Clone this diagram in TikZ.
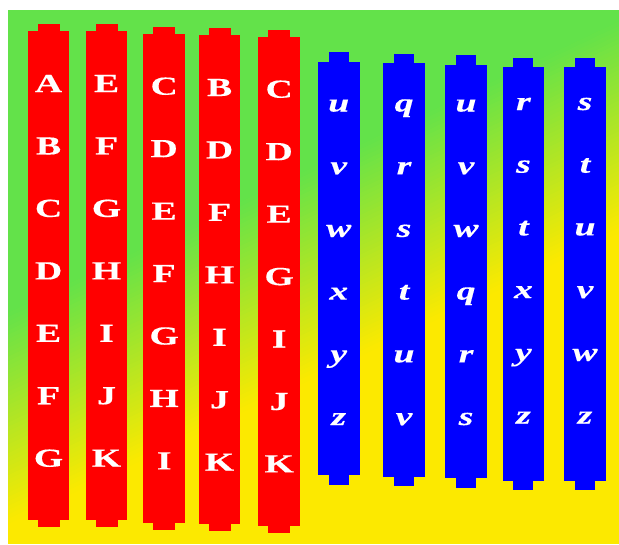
\documentclass[tikz,border=0pt]{standalone}
\usepackage{fontspec}
\setmainfont{Liberation Serif}
\newfontfamily\barfont[FakeStretch=1.45,FakeBold=0.4]{Liberation Serif}
\definecolor{bggreen}{RGB}{99,226,74}
\definecolor{bgyellow}{RGB}{252,233,0}
\definecolor{barred}{RGB}{255,0,0}
\definecolor{barblue}{RGB}{0,0,255}
\tikzset{
  redletter/.style={text=white, font=\barfont\fontsize{26}{27}\selectfont\bfseries, anchor=base, inner sep=0pt},
  blueletter/.style={text=white, font=\barfont\fontsize{26}{27}\selectfont\bfseries\itshape, anchor=base, inner sep=0pt},
  redbar/.style={fill=barred},
  bluebar/.style={fill=barblue}
}
\begin{document}
\begin{tikzpicture}[x=1pt,y=-1pt]
\useasboundingbox (0,0) rectangle (619,544);
\coordinate (bgc) at (313.5,277);
\begin{scope}
  \clip (8,10) rectangle (619,544);
  \fill[bgyellow] (8,10) rectangle (619,544);
  \begin{scope}[rotate around={25.5:(bgc)}]
    \fill[bggreen] (-400,-400) rectangle (1000,178.4);
    \foreach \j in {0,...,47} {
      \pgfmathsetmacro\pct{100*(\j+0.5)/48}
      \fill[bgyellow!\pct!bggreen] (-400,177.9+3.958*\j) rectangle (1000,177.9+3.958*\j+4.5);
    }
  \end{scope}
\end{scope}
% red bars
\foreach \i/\bx/\ty/\lst in {1/27.7/31/{A,B,C,D,E,F,G},2/85.7/31/{E,F,G,H,I,J,K},3/143.3/33.7/{C,D,E,F,G,H,I},4/198.7/35/{B,D,F,H,I,J,K},5/258.3/36.7/{C,D,E,G,I,J,K}}{
  \fill[redbar] (\bx,\ty) rectangle ++(41.7,489);
  \fill[redbar] (\bx+9.85,\ty-7) rectangle ++(22,503);
  \foreach \ch [count=\k from 0] in \lst {
    \node[redletter] (r\i-\k) at (\bx+20.85,\ty+61+62.45*\k) {\ch};
  }
}
% blue bars
\foreach \i/\bx/\ty/\bl/\lst in {1/318/61.7/111.5/{u,v,w,x,y,z},2/383.3/63.3/111.5/{q,r,s,t,u,v},3/445.3/64.7/111.5/{u,v,w,q,r,s},4/502.7/67.3/110/{r,s,t,x,y,z},5/564.3/67.3/110/{s,t,u,v,w,z}}{
  \fill[bluebar] (\bx,\ty) rectangle ++(41.5,413.6);
  \fill[bluebar] (\bx+10.75,\ty-9.5) rectangle ++(20,432.6);
  \foreach \ch [count=\k from 0] in \lst {
    \node[blueletter] (b\i-\k) at (\bx+20.75,\bl+62.7*\k) {\ch};
  }
}
\end{tikzpicture}
\end{document}
